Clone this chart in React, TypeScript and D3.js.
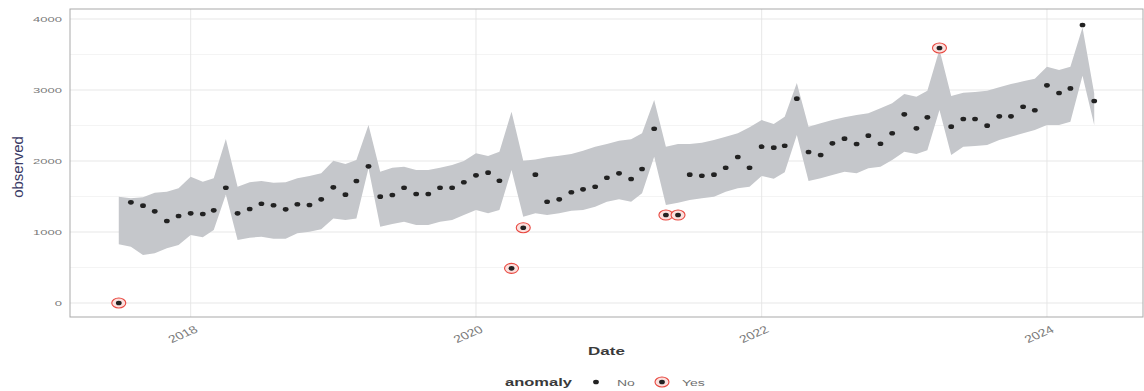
import React from "react";
import * as d3 from "d3";

// ---- data ----
const START_MONTH = "2017-07-01";
const END_MONTH = "2024-05-01";

const OBSERVED = [
  0, 1418, 1371, 1291, 1155, 1225, 1263, 1254, 1305, 1624, 1263, 1324,
  1399, 1376, 1319, 1390, 1380, 1460, 1629, 1526, 1718, 1925, 1498, 1521,
  1624, 1535, 1535, 1624, 1624, 1700, 1798, 1836, 1723, 488, 1061, 1808,
  1427, 1460, 1559, 1601, 1638, 1765, 1826, 1746, 1887, 2455, 1239, 1239,
  1808, 1793, 1808, 1906, 2056, 1906, 2202, 2188, 2216, 2878, 2127, 2085,
  2249, 2315, 2239, 2357, 2244, 2390, 2657, 2460, 2615, 3592, 2484, 2592,
  2592, 2498, 2629, 2629, 2765, 2714, 3066, 2958, 3023, 3915, 2845,
];

const LOWER = [
  826, 793, 676, 700, 770, 817, 958, 925, 1028, 1530, 887, 920,
  934, 906, 906, 981, 1005, 1038, 1192, 1169, 1192, 1897, 1075, 1113,
  1146, 1099, 1099, 1146, 1169, 1239, 1310, 1263, 1310, 1873, 1216, 1263,
  1239, 1263, 1300, 1310, 1357, 1427, 1460, 1427, 1545, 2061, 1380, 1413,
  1451, 1474, 1498, 1568, 1615, 1638, 1790, 1750, 1840, 2366, 1720, 1756,
  1803, 1850, 1826, 1897, 1920, 2014, 2131, 2099, 2150, 2720, 2085, 2202,
  2211, 2225, 2296, 2343, 2390, 2437, 2507, 2507, 2554, 3200, 2507,
];

const UPPER = [
  1498, 1474, 1488, 1554, 1568, 1615, 1779, 1709, 1756, 2310, 1638, 1700,
  1718, 1695, 1700, 1756, 1789, 1826, 2005, 1958, 2014, 2507, 1850, 1906,
  1920, 1873, 1873, 1906, 1944, 2000, 2108, 2070, 2131, 2695, 2005, 2023,
  2052, 2075, 2099, 2146, 2202, 2239, 2286, 2305, 2390, 2859, 2202, 2239,
  2239, 2258, 2296, 2343, 2390, 2474, 2577, 2520, 2624, 3100, 2484, 2531,
  2577, 2615, 2648, 2671, 2742, 2812, 2944, 2906, 2991, 3570, 2915, 2962,
  2972, 2991, 3038, 3085, 3122, 3160, 3329, 3282, 3329, 3880, 2950,
];

const ANOMALY_MONTHS = ["2017-07", "2020-04", "2020-05", "2021-05", "2021-06", "2023-04"];

const Y_TICKS = [0, 1000, 2000, 3000, 4000];
const Y_MINOR = [500, 1500, 2500, 3500];
const X_TICK_YEARS = [2018, 2020, 2022, 2024];
const Y_DOMAIN = [-197, 4141];

const X_TITLE = "Date";
const Y_TITLE = "observed";
const LEGEND_TITLE = "anomaly";
const LEGEND_LABELS = ["No", "Yes"];

// ---- layout ----
const W = 1144;
const H = 391;
const P = { left: 70, right: 1143, top: 9, bottom: 317 };
const FONT = "'Liberation Sans', Arial, Helvetica, sans-serif";

const parse = d3.utcParse("%Y-%m-%d");
const fmtMonth = d3.utcFormat("%Y-%m");
const months = d3.utcMonth.range(parse(START_MONTH)!, d3.utcMonth.offset(parse(END_MONTH)!, 1));

type Row = { date: Date; obs: number; lo: number; hi: number; anomaly: boolean };
const rows: Row[] = months.map((date, i) => ({
  date,
  obs: OBSERVED[i],
  lo: LOWER[i],
  hi: UPPER[i],
  anomaly: ANOMALY_MONTHS.includes(fmtMonth(date)),
}));

export default function App() {
  const [t0, t1] = d3.extent(months) as [Date, Date];
  const span = +t1 - +t0;
  const x = d3
    .scaleUtc()
    .domain([new Date(+t0 - span * 0.05), new Date(+t1 + span * 0.05)])
    .range([P.left, P.right]);
  const y = d3.scaleLinear().domain(Y_DOMAIN).range([P.bottom, P.top]);

  const band = d3
    .area<Row>()
    .x((d) => x(d.date))
    .y0((d) => y(d.lo))
    .y1((d) => y(d.hi));

  const yearDate = (yr: number) => new Date(Date.UTC(yr, 0, 1));

  return (
    <svg
      width={W}
      height={H}
      viewBox={`0 0 ${W} ${H}`}
      style={{ position: "fixed", left: 0, top: 0, background: "#fff" }}
      fontFamily={FONT}
    >
      <rect x={0} y={0} width={W} height={H} fill="#fff" />
      {/* grid */}
      {Y_MINOR.map((v) => (
        <line key={"ym" + v} x1={P.left} x2={P.right} y1={y(v)} y2={y(v)} stroke="#f1f1f1" strokeWidth={0.8} />
      ))}
      {Y_TICKS.map((v) => (
        <line key={"yg" + v} x1={P.left} x2={P.right} y1={y(v)} y2={y(v)} stroke="#e4e4e4" strokeWidth={0.9} />
      ))}
      {X_TICK_YEARS.map((yr) => (
        <line
          key={"xg" + yr}
          x1={x(yearDate(yr))}
          x2={x(yearDate(yr))}
          y1={P.top}
          y2={P.bottom}
          stroke="#e4e4e4"
          strokeWidth={0.9}
        />
      ))}

      {/* band */}
      <path d={band(rows) ?? ""} fill="#c5c7cb" />

      {/* points */}
      {rows.map((d, i) => (
        <g key={"p" + i}>
          {d.anomaly && (
            <ellipse
              cx={x(d.date)}
              cy={y(d.obs)}
              rx={7}
              ry={5}
              fill="#fbe0de"
              stroke="#e8473f"
              strokeWidth={1.1}
            />
          )}
          <ellipse cx={x(d.date)} cy={y(d.obs)} rx={2.9} ry={2.3} fill="#222" />
        </g>
      ))}

      {/* panel border */}
      <rect
        x={P.left}
        y={P.top}
        width={P.right - P.left}
        height={P.bottom - P.top}
        fill="none"
        stroke="#a9a9a9"
        strokeWidth={1}
      />

      {/* y tick labels */}
      {Y_TICKS.map((v) => (
        <text
          key={"yt" + v}
          transform={`translate(62,${y(v)}) scale(1,0.6)`}
          textAnchor="end"
          dominantBaseline="central"
          fontSize={13}
          fill="#7a7a7a"
        >
          {v}
        </text>
      ))}

      {/* x tick labels */}
      {X_TICK_YEARS.map((yr) => (
        <text
          key={"xt" + yr}
          transform={`translate(${x(yearDate(yr)) + 3},${P.bottom + 8}) scale(1,0.75) rotate(-30)`}
          textAnchor="end"
          dominantBaseline="hanging"
          fontSize={14}
          fill="#7a7a7a"
        >
          {yr}
        </text>
      ))}

      {/* axis titles */}
      <text
        transform={`translate(${(P.left + P.right) / 2},355) scale(1,0.62)`}
        textAnchor="middle"
        fontSize={17}
        fontWeight="bold"
        fill="#3a3a3a"
      >
        {X_TITLE}
      </text>
      <text
        transform={`translate(22.5,${(P.top + P.bottom) / 2 + 4}) rotate(-90)`}
        textAnchor="middle"
        fontSize={15}
        fill="#3b3b66"
      >
        {Y_TITLE}
      </text>

      {/* legend */}
      <text transform="translate(505,386) scale(1,0.62)" fontSize={16.5} fontWeight="bold" fill="#3a3a3a">
        {LEGEND_TITLE}
      </text>
      <ellipse cx={596} cy={382} rx={2.9} ry={2.3} fill="#222" />
      <text transform="translate(617,386) scale(1,0.62)" fontSize={14} fill="#707070">
        {LEGEND_LABELS[0]}
      </text>
      <ellipse cx={662} cy={382} rx={7} ry={5} fill="#fbe0de" stroke="#e8473f" strokeWidth={1.1} />
      <ellipse cx={662} cy={382} rx={2.9} ry={2.3} fill="#222" />
      <text transform="translate(682,386) scale(1,0.62)" fontSize={14} fill="#707070">
        {LEGEND_LABELS[1]}
      </text>
    </svg>
  );
}
